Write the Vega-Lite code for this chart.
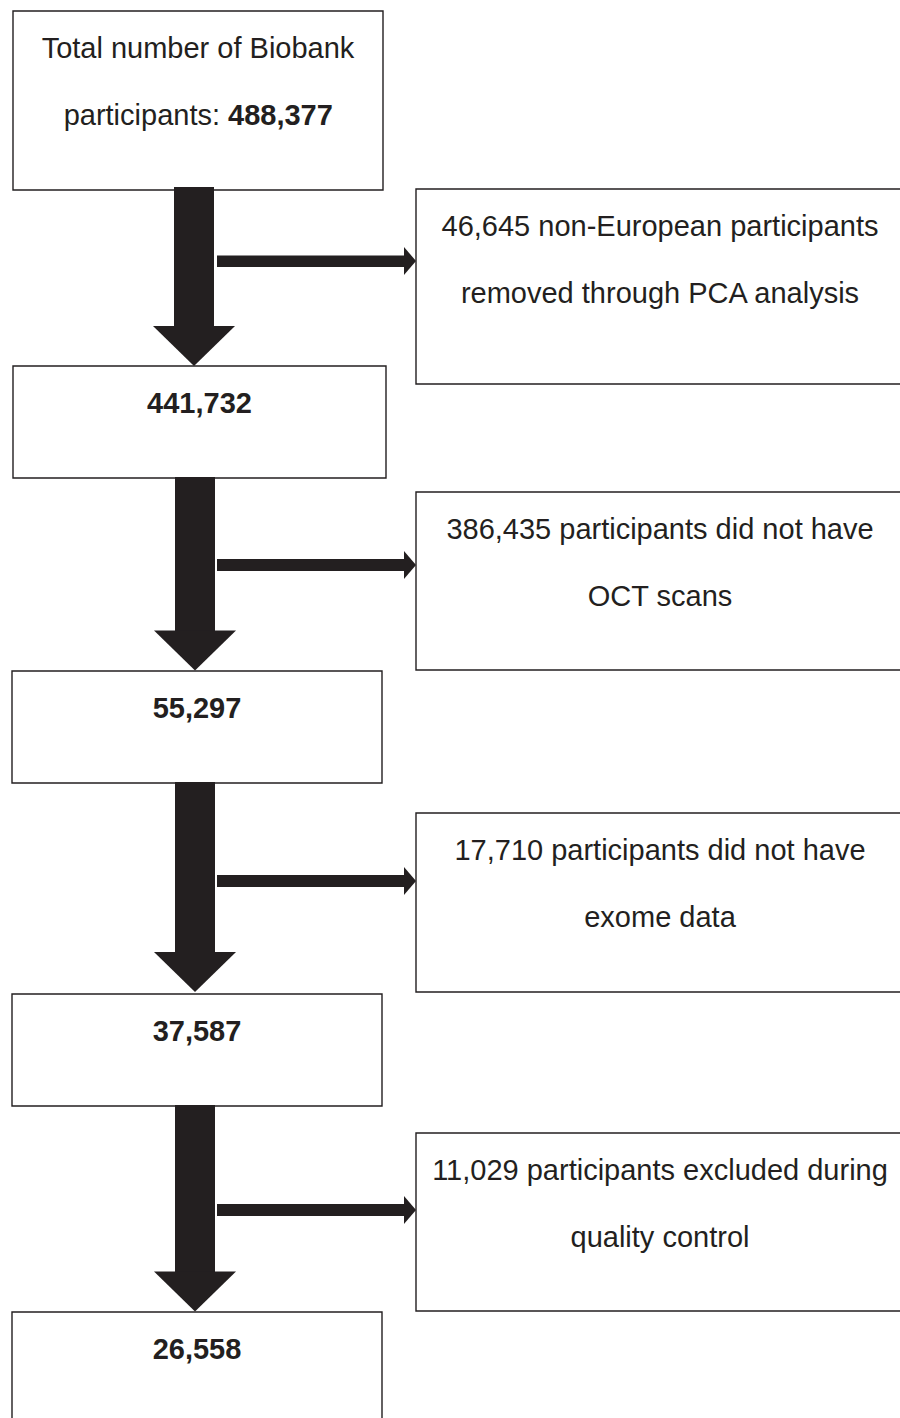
{
  "$schema": "https://vega.github.io/schema/vega-lite/v6.json",
  "width": 900,
  "height": 1418,
  "padding": 0,
  "autosize": {"type": "fit", "contains": "padding"},
  "background": "white",
  "config": {"view": {"stroke": null}},
  "datasets": {
    "boxes": [
      {"id": "b1", "x": 13, "x2": 383, "y": 11, "y2": 190},
      {"id": "b2", "x": 13, "x2": 386, "y": 366, "y2": 478},
      {"id": "b3", "x": 12, "x2": 382, "y": 671, "y2": 783},
      {"id": "b4", "x": 12, "x2": 382, "y": 994, "y2": 1106},
      {"id": "b5", "x": 12, "x2": 382, "y": 1312, "y2": 1430},
      {"id": "r1", "x": 416, "x2": 910, "y": 189, "y2": 384},
      {"id": "r2", "x": 416, "x2": 910, "y": 492, "y2": 670},
      {"id": "r3", "x": 416, "x2": 910, "y": 813, "y2": 992},
      {"id": "r4", "x": 416, "x2": 910, "y": 1133, "y2": 1311}
    ],
    "shafts": [
      {"x": 174, "x2": 214, "y": 187, "y2": 327},
      {"x": 175, "x2": 215, "y": 477, "y2": 632},
      {"x": 175, "x2": 215, "y": 782, "y2": 953},
      {"x": 175, "x2": 215, "y": 1105, "y2": 1272},
      {"x": 217, "x2": 405, "y": 255.5, "y2": 267},
      {"x": 217, "x2": 405, "y": 559, "y2": 571},
      {"x": 217, "x2": 405, "y": 875, "y2": 887},
      {"x": 217, "x2": 405, "y": 1204, "y2": 1216}
    ],
    "downHeads": [
      {"x": 194, "y": 346},
      {"x": 195, "y": 650.5},
      {"x": 195, "y": 972},
      {"x": 195, "y": 1291.5}
    ],
    "sideHeads": [
      {"x": 410, "y": 261},
      {"x": 410, "y": 565},
      {"x": 410, "y": 881},
      {"x": 410, "y": 1210}
    ],
    "texts": [
      {"t": "Total number of Biobank", "x": 198, "y": 58, "kind": "plain"},
      {"t": "participants:", "x": 220, "y": 125, "kind": "lead"},
      {"t": "488,377", "x": 228, "y": 125, "kind": "count"},
      {"t": "441,732", "x": 199.5, "y": 413, "kind": "bold"},
      {"t": "55,297", "x": 197, "y": 718, "kind": "bold"},
      {"t": "37,587", "x": 197, "y": 1041, "kind": "bold"},
      {"t": "26,558", "x": 197, "y": 1359, "kind": "bold"},
      {"t": "46,645 non-European participants", "x": 660, "y": 236, "kind": "plain"},
      {"t": "removed through PCA analysis", "x": 660, "y": 303, "kind": "plain"},
      {"t": "386,435 participants did not have", "x": 660, "y": 539, "kind": "plain"},
      {"t": "OCT scans", "x": 660, "y": 606, "kind": "plain"},
      {"t": "17,710 participants did not have", "x": 660, "y": 860, "kind": "plain"},
      {"t": "exome data", "x": 660, "y": 927, "kind": "plain"},
      {"t": "11,029 participants excluded during", "x": 660, "y": 1180, "kind": "plain"},
      {"t": "quality control", "x": 660, "y": 1247, "kind": "plain"}
    ]
  },
  "layer": [
    {
      "data": {"name": "boxes"},
      "mark": {"type": "rect", "fill": "white", "stroke": "#231f20", "strokeWidth": 1.4, "clip": true},
      "encoding": {
        "x": {"field": "x", "type": "quantitative", "scale": {"domain": [0, 900], "nice": false, "zero": false}, "axis": null},
        "x2": {"field": "x2"},
        "y": {"field": "y", "type": "quantitative", "scale": {"domain": [0, 1418], "nice": false, "zero": false, "reverse": true}, "axis": null},
        "y2": {"field": "y2"}
      }
    },
    {
      "data": {"name": "shafts"},
      "mark": {"type": "rect", "fill": "#231f20", "strokeWidth": 0},
      "encoding": {
        "x": {"field": "x", "type": "quantitative", "axis": null},
        "x2": {"field": "x2"},
        "y": {"field": "y", "type": "quantitative", "axis": null},
        "y2": {"field": "y2"}
      }
    },
    {
      "data": {"name": "downHeads"},
      "mark": {"type": "point", "shape": "M-1,-0.488L1,-0.488L0,0.488Z", "size": 6724, "filled": true, "fill": "#231f20", "opacity": 1, "strokeWidth": 0},
      "encoding": {
        "x": {"field": "x", "type": "quantitative", "axis": null},
        "y": {"field": "y", "type": "quantitative", "axis": null}
      }
    },
    {
      "data": {"name": "sideHeads"},
      "mark": {"type": "point", "shape": "M-0.43,-1L0.43,0L-0.43,1Z", "size": 784, "filled": true, "fill": "#231f20", "opacity": 1, "strokeWidth": 0},
      "encoding": {
        "x": {"field": "x", "type": "quantitative", "axis": null},
        "y": {"field": "y", "type": "quantitative", "axis": null}
      }
    },
    {
      "data": {"name": "texts"},
      "transform": [{"filter": "datum.kind === 'plain'"}],
      "mark": {"type": "text", "font": "Liberation Sans", "fontSize": 29, "fill": "#231f20", "align": "center", "baseline": "alphabetic"},
      "encoding": {
        "x": {"field": "x", "type": "quantitative", "axis": null},
        "y": {"field": "y", "type": "quantitative", "axis": null},
        "text": {"field": "t"}
      }
    },
    {
      "data": {"name": "texts"},
      "transform": [{"filter": "datum.kind === 'bold'"}],
      "mark": {"type": "text", "font": "Liberation Sans", "fontSize": 29, "fontWeight": "bold", "fill": "#231f20", "align": "center", "baseline": "alphabetic"},
      "encoding": {
        "x": {"field": "x", "type": "quantitative", "axis": null},
        "y": {"field": "y", "type": "quantitative", "axis": null},
        "text": {"field": "t"}
      }
    },
    {
      "data": {"name": "texts"},
      "transform": [{"filter": "datum.kind === 'lead'"}],
      "mark": {"type": "text", "font": "Liberation Sans", "fontSize": 29, "fill": "#231f20", "align": "right", "baseline": "alphabetic"},
      "encoding": {
        "x": {"field": "x", "type": "quantitative", "axis": null},
        "y": {"field": "y", "type": "quantitative", "axis": null},
        "text": {"field": "t"}
      }
    },
    {
      "data": {"name": "texts"},
      "transform": [{"filter": "datum.kind === 'count'"}],
      "mark": {"type": "text", "font": "Liberation Sans", "fontSize": 29, "fontWeight": "bold", "fill": "#231f20", "align": "left", "baseline": "alphabetic"},
      "encoding": {
        "x": {"field": "x", "type": "quantitative", "axis": null},
        "y": {"field": "y", "type": "quantitative", "axis": null},
        "text": {"field": "t"}
      }
    }
  ]
}
